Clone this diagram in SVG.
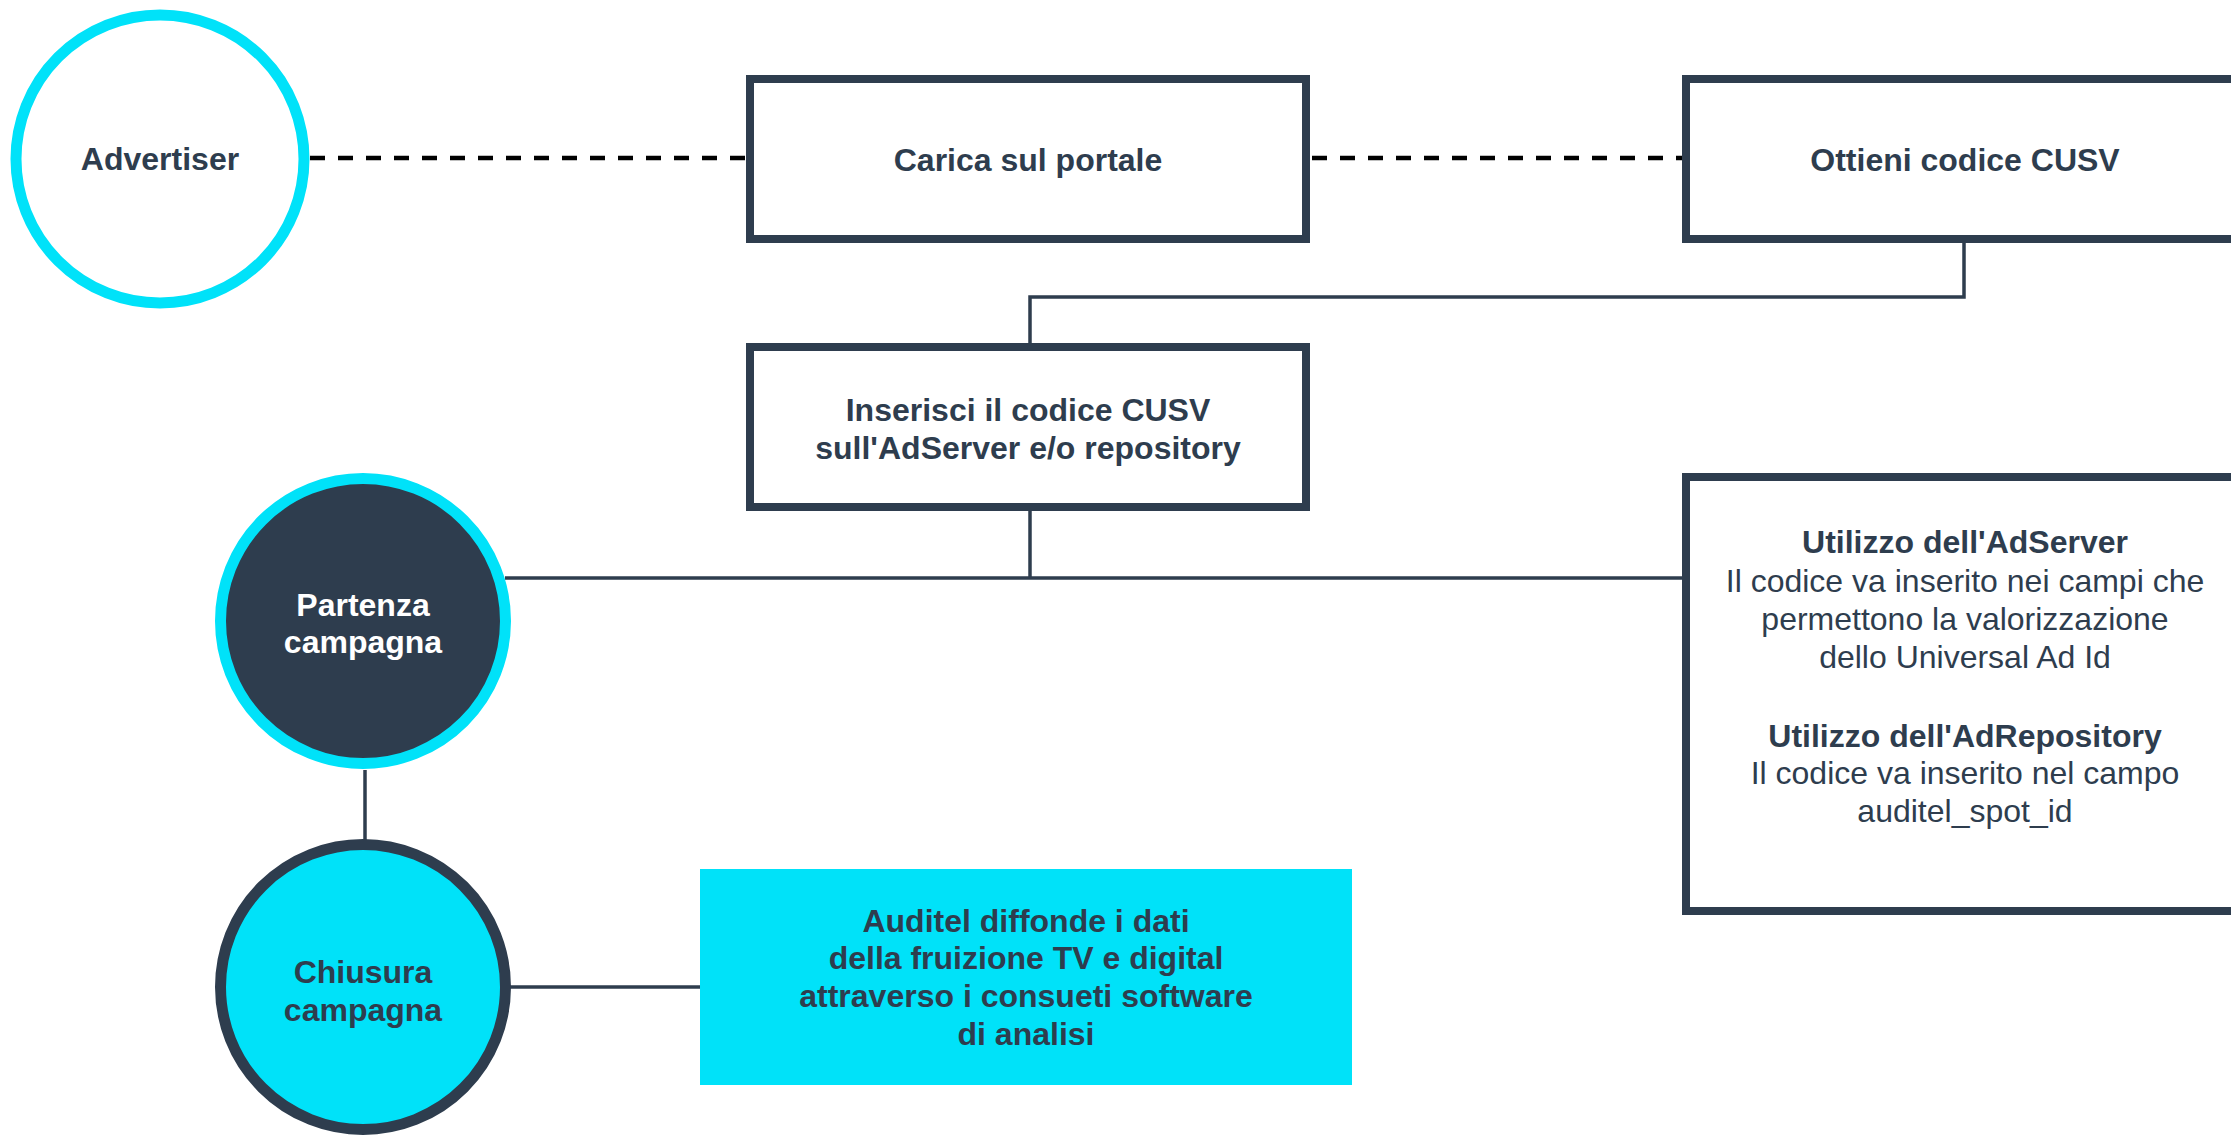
<svg xmlns="http://www.w3.org/2000/svg" width="2231" height="1135" viewBox="0 0 2231 1135">
<style>
.box{fill:#ffffff;stroke:#2e3d4e;stroke-width:8}
.t{font-family:"Liberation Sans",Arial,sans-serif;font-size:32px;text-anchor:middle;fill:#2e3d4e}
.b{font-weight:bold}
.w{fill:#ffffff}
.dash{stroke:#000000;stroke-width:4.5;stroke-dasharray:15 13;fill:none}
.ln{stroke:#2e3d4e;stroke-width:3.5;fill:none}
</style>
<rect width="2231" height="1135" fill="#ffffff"/>
<g id="connectors">
<line class="dash" x1="310" y1="158" x2="746" y2="158"/>
<line class="dash" x1="1312" y1="158" x2="1682" y2="158"/>
<polyline class="ln" points="1964,243 1964,297 1030,297 1030,343"/>
<line class="ln" x1="1030" y1="511" x2="1030" y2="578"/>
<line class="ln" x1="505" y1="578" x2="1682" y2="578"/>
<line class="ln" x1="365" y1="770" x2="365" y2="840"/>
<line class="ln" x1="508" y1="987" x2="700" y2="987"/>
</g>
<g id="advertiser">
<circle cx="160" cy="159" r="144" fill="#ffffff" stroke="#00e2f9" stroke-width="11"/>
<text class="t b" x="160" y="170">Advertiser</text>
</g>
<g id="carica">
<rect class="box" x="750" y="79" width="556" height="160"/>
<text class="t b" x="1028" y="171">Carica sul portale</text>
</g>
<g id="ottieni">
<rect class="box" x="1686" y="79" width="556" height="160"/>
<text class="t b" x="1965" y="171">Ottieni codice CUSV</text>
</g>
<g id="inserisci">
<rect class="box" x="750" y="347" width="556" height="160"/>
<text class="t b" x="1028" y="421">Inserisci il codice CUSV</text>
<text class="t b" x="1028" y="459">sull'AdServer e/o repository</text>
</g>
<g id="utilizzo">
<rect class="box" x="1686" y="477" width="556" height="434"/>
<text class="t b" x="1965" y="553">Utilizzo dell'AdServer</text>
<text class="t" x="1965" y="592">Il codice va inserito nei campi che</text>
<text class="t" x="1965" y="630">permettono la valorizzazione</text>
<text class="t" x="1965" y="668">dello Universal Ad Id</text>
<text class="t b" x="1965" y="747">Utilizzo dell'AdRepository</text>
<text class="t" x="1965" y="784">Il codice va inserito nel campo</text>
<text class="t" x="1965" y="822">auditel_spot_id</text>
</g>
<g id="partenza">
<circle cx="363" cy="621" r="142.5" fill="#2e3d4e" stroke="#00e2f9" stroke-width="11"/>
<text class="t b w" x="363" y="616">Partenza</text>
<text class="t b w" x="363" y="653">campagna</text>
</g>
<g id="chiusura">
<circle cx="363" cy="987" r="142.5" fill="#00e2f9" stroke="#2e3d4e" stroke-width="11"/>
<text class="t b" x="363" y="983">Chiusura</text>
<text class="t b" x="363" y="1021">campagna</text>
</g>
<g id="auditel">
<rect x="700" y="869" width="652" height="216" fill="#00e2f9"/>
<text class="t b" x="1026" y="932">Auditel diffonde i dati</text>
<text class="t b" x="1026" y="969">della fruizione TV e digital</text>
<text class="t b" x="1026" y="1007">attraverso i consueti software</text>
<text class="t b" x="1026" y="1045">di analisi</text>
</g>
</svg>
